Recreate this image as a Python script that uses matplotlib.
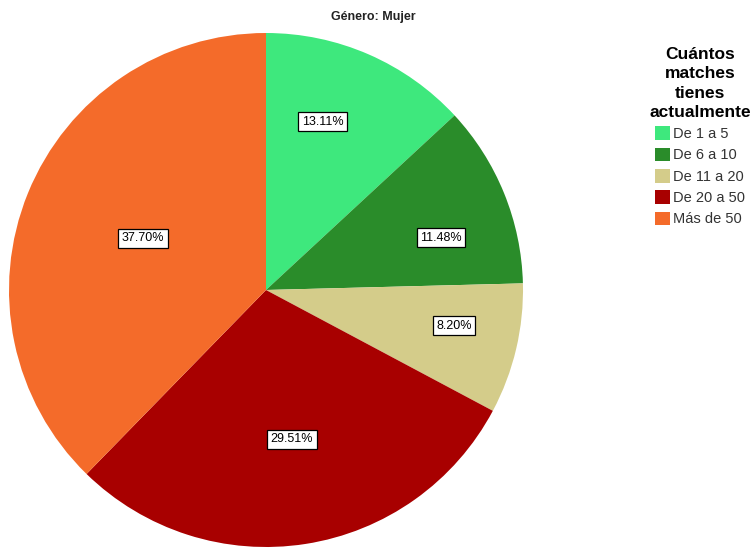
import numpy as np
import matplotlib
matplotlib.use("Agg")
import matplotlib.pyplot as plt

plt.rcParams['font.family'] = ['Liberation Sans', 'DejaVu Sans']

categories = ["De 1 a 5", "De 6 a 10", "De 11 a 20", "De 20 a 50", "Más de 50"]
percentages = [13.11, 11.48, 8.20, 29.51, 37.70]
colors = ["#3ee87d", "#2a8c2a", "#d4cc8a", "#a80000", "#f46b2a"]
# placement of each percentage box: fraction of radius, angle nudge in degrees
label_radius = [0.69, 0.71, 0.745, 0.59, 0.52]
label_nudge = [5.0, -5.5, 2.5, 1.0, -0.7]

title = "Género: Mujer"
legend_title = "Cuántos\nmatches\ntienes\nactualmente"

fig = plt.figure(figsize=(7.53, 5.48), dpi=100)
ax = fig.add_axes([9 / 753, 1 / 548, 514 / 753, 514 / 548])

wedges, texts, autotexts = ax.pie(
    percentages, colors=colors, startangle=90, counterclock=False,
    radius=1.0, autopct=lambda p: "%.2f%%" % p,
    wedgeprops=dict(linewidth=0),
    textprops=dict(fontsize=9, color="black"))

for w, t, r, d in zip(wedges, autotexts, label_radius, label_nudge):
    mid = np.deg2rad((w.theta1 + w.theta2) / 2 + d)
    t.set_position((r * np.cos(mid), r * np.sin(mid)))
    t.set_bbox(dict(boxstyle="square,pad=0.28", fc="white", ec="black", lw=0.9))

ax.set_xlim(-1, 1)
ax.set_ylim(-1, 1)
ax.set_aspect("equal")
ax.axis("off")

fig.text(373 / 753, 1 - 17 / 548, title, ha="center", va="center",
         fontsize=9, fontweight="bold", color="#222222")

leg = fig.legend(wedges, categories, loc="upper center",
                 bbox_to_anchor=(700 / 753, 1 - 40 / 548), frameon=False,
                 title=legend_title, fontsize=10.5,
                 handlelength=1.05, handleheight=1.05, handletextpad=0.25,
                 labelspacing=0.45, borderpad=0)
leg.get_title().set_fontsize(12.5)
leg.get_title().set_fontweight("bold")
leg.get_title().set_linespacing(1.35)
leg.get_title().set_multialignment("center")
for t in leg.get_texts():
    t.set_color("#333333")

fig.savefig("out.png", dpi=100)
